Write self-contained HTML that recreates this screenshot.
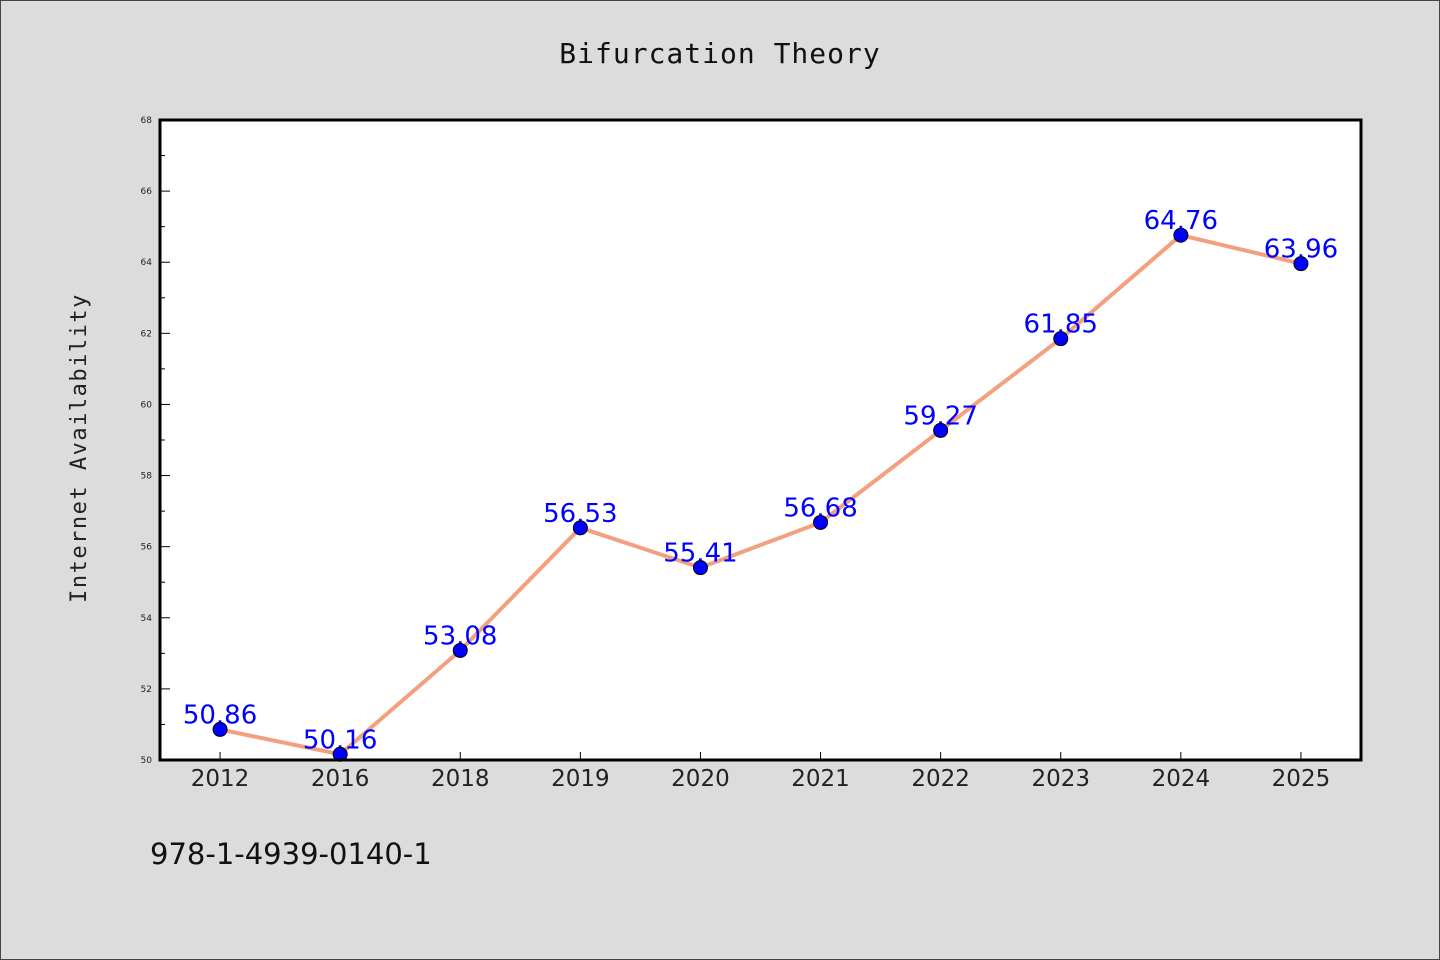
<!DOCTYPE html>
<html><head><meta charset="utf-8"><style>
body{margin:0;background:#dcdcdc;}
svg{display:block;font-family:"DejaVu Sans","Liberation Sans",sans-serif;}
</style></head><body>
<svg id="chart" width="1440" height="960" xmlns="http://www.w3.org/2000/svg">
<rect x="0.5" y="0.5" width="1439" height="959" fill="#dcdcdc" stroke="#444"/>
<text x="720" y="63" text-anchor="middle" font-size="28" fill="#111" letter-spacing="1" font-family="DejaVu Sans Mono, monospace">Bifurcation Theory</text>
<text transform="translate(86,448) rotate(-90)" text-anchor="middle" font-size="22" fill="#222" letter-spacing="1.5" font-family="DejaVu Sans Mono, monospace">Internet Availability</text>
<text x="150" y="864" font-size="29" fill="#111">978-1-4939-0140-1</text>
<rect x="160" y="120" width="1201" height="640" fill="#fff"/>
<g id="ticks"></g>
<g id="series"></g>
<rect x="160" y="120" width="1201" height="640" fill="none" stroke="#000" stroke-width="3"/>
</svg>
<script>
const categories=["2012","2016","2018","2019","2020","2021","2022","2023","2024","2025"];
const values=[50.86,50.16,53.08,56.53,55.41,56.68,59.27,61.85,64.76,63.96];
const valueLabels=["50.86","50.16","53.08","56.53","55.41","56.68","59.27","61.85","64.76","63.96"];
const yTicks=[50,52,54,56,58,60,62,64,66,68];
const yMin=50,yMax=68;
const L=160,R=1361,T=120,B=760;
const NS="http://www.w3.org/2000/svg";
const xs=i=>L+(R-L)/categories.length*(i+0.5);
const ys=v=>B-(v-yMin)/(yMax-yMin)*(B-T);
function mk(tag,attrs,parent){const e=document.createElementNS(NS,tag);for(const k in attrs)e.setAttribute(k,attrs[k]);parent.appendChild(e);return e;}
const tg=document.getElementById('ticks'),sg=document.getElementById('series');
for(let v=yMin;v<=yMax;v++){
  const major=yTicks.includes(v);
  const t=mk('line',{x1:L,x2:L+(major?10:5),y1:ys(v),y2:ys(v),stroke:'#000','stroke-width':1},tg);
  
  
}
yTicks.forEach(v=>{
  const t=mk('text',{x:L-8,y:ys(v)+3,'text-anchor':'end','font-size':9,fill:'#222'},tg);
  t.textContent=v;
  
  
});
categories.forEach((c,i)=>{
  const t=mk('line',{x1:xs(i),x2:xs(i),y1:B,y2:B-8,stroke:'#000','stroke-width':1},tg);
  
  
  const l=mk('text',{x:xs(i),y:B+26,'text-anchor':'middle','font-size':23,fill:'#222'},tg);
  l.textContent=c;
  
  
});
const pts=values.map((v,i)=>xs(i)+','+ys(v)).join(' ');
const line=mk('polyline',{points:pts,fill:'none',stroke:'#f4a07e','stroke-width':4,'stroke-linejoin':'round'},sg);


values.forEach((v,i)=>{
  const t=mk('text',{x:xs(i),y:ys(v)-6,'text-anchor':'middle','font-size':26,fill:'#0000ff'},sg);
  t.textContent=valueLabels[i];
  
  
});
values.forEach((v,i)=>{
  const p=mk('circle',{cx:xs(i),cy:ys(v),r:7,fill:'#0000ff',stroke:'#000','stroke-width':1},sg);
  
  
});
</script>
</body></html>
